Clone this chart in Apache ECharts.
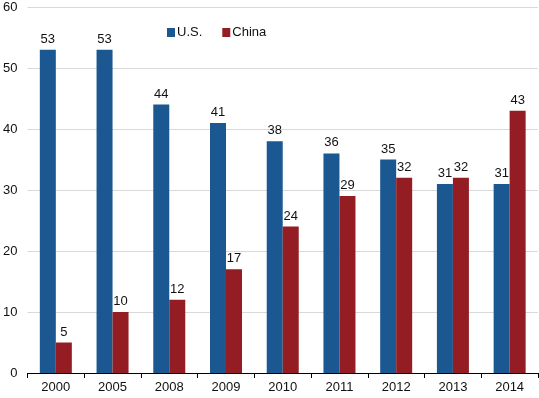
<!DOCTYPE html>
<html>
<head>
<meta charset="utf-8">
<script src="https://cdn.jsdelivr.net/npm/echarts@6/dist/echarts.min.js"></script>
<style>
  html, body { margin: 0; padding: 0; background: #fff; }
  #chart { width: 539px; height: 398px; }
</style>
</head>
<body>
<div id="chart"></div>
<script>
// years on the x axis
var years = ['2000', '2005', '2008', '2009', '2010', '2011', '2012', '2013', '2014'];
// series values
var usValues = [53, 53, 44, 41, 38, 36, 35, 31, 31];
var chinaValues = [5, 10, 12, 17, 24, 29, 32, 32, 43];

var myChart = echarts.init(document.getElementById('chart'));

var labelStyle = {
    show: true,
    position: 'top',
    distance: 4,
    color: '#111',
    fontSize: 13,
    fontFamily: 'Liberation Sans, Arial, sans-serif'
};

var option = {
    animation: false,
    backgroundColor: '#fff',
    grid: { left: 25, right: 1, top: 7, bottom: 25 },
    legend: {
        data: ['U.S.', 'China'],
        left: 162,
        top: 21,
        itemWidth: 8,
        itemHeight: 9,
        itemGap: 20,
        icon: 'rect',
        textStyle: { color: '#111', fontSize: 13, padding: [0, 0, 0, -3], fontFamily: 'Liberation Sans, Arial, sans-serif' }
    },
    xAxis: {
        type: 'category',
        data: years,
        axisLine: { lineStyle: { color: '#000', width: 1 } },
        axisTick: { show: true, length: 5, lineStyle: { color: '#000' } },
        axisLabel: { color: '#111', fontSize: 13, margin: 8, fontFamily: 'Liberation Sans, Arial, sans-serif' }
    },
    yAxis: {
        type: 'value',
        min: 0,
        max: 60,
        interval: 10,
        axisLine: { show: false },
        axisTick: { show: false },
        axisLabel: { color: '#111', fontSize: 13, margin: 10, fontFamily: 'Liberation Sans, Arial, sans-serif' },
        splitLine: { lineStyle: { color: '#d9d9d9', width: 1 } }
    },
    series: [
        {
            name: 'U.S.',
            type: 'bar',
            data: usValues,
            barWidth: 16,
            barGap: '0%',
            itemStyle: { color: '#1b5791' },
            label: labelStyle
        },
        {
            name: 'China',
            type: 'bar',
            data: chinaValues,
            barWidth: 16,
            itemStyle: { color: '#931d22' },
            label: labelStyle
        }
    ]
};

myChart.setOption(option);
</script>
</body>
</html>
